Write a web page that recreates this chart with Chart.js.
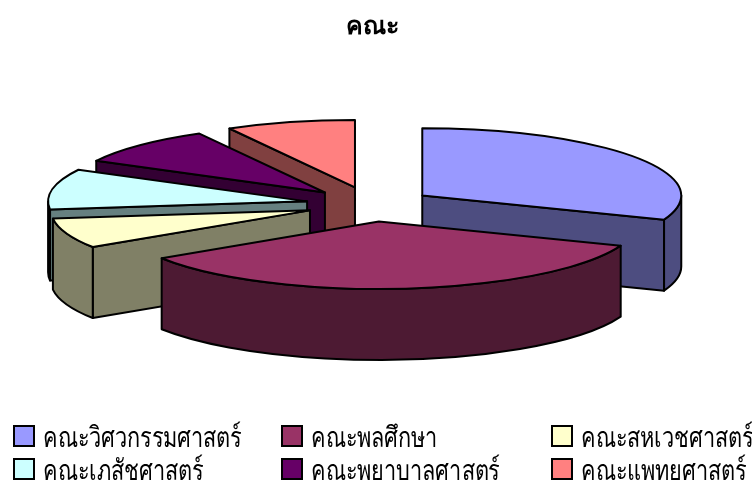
<!DOCTYPE html>
<html lang="th">
<head>
<meta charset="UTF-8">
<title>คณะ</title>
<script src="https://cdn.jsdelivr.net/npm/chart.js"></script>
<style>
    html, body { margin: 0; padding: 0; background: #fff; }
    #wrap { position: relative; width: 752px; height: 482px; overflow: hidden; }
    #legend .item { position: absolute; height: 24px; line-height: 24px; font-family: 'Liberation Serif', serif; font-size: 25px; color: #000; white-space: nowrap; }
    #legend .box { position: absolute; left: 0; top: 1px; width: 18px; height: 18px; border: 2px solid #000; }
    #legend .txt { position: absolute; left: 30px; top: 2px; transform: scale(0.87, 1.15); transform-origin: left center; }
</style>
</head>
<body>
<div id="wrap">
    <canvas id="myChart" width="752" height="482"></canvas>
    <div id="legend"></div>
</div>
<script>
    const categories = ['คณะวิศวกรรมศาสตร์', 'คณะพลศึกษา', 'คณะสหเวชศาสตร์', 'คณะเภสัชศาสตร์', 'คณะพยาบาลศาสตร์', 'คณะแพทยศาสตร์'];
    const values = [111, 126, 26, 35, 33, 29];
    const topColors = ['#9999ff', '#993366', '#ffffcc', '#ccffff', '#660066', '#ff8080'];
    const wallColors = ['#4d4d80', '#4d1a33', '#808066', '#668080', '#330033', '#804040'];
    const explode = [61, 66, 66, 66, 66, 68];

    const legendX = [13, 281, 551];
    const legendY = [424, 457];

    // squashes the pie into an ellipse and adds the side walls, back slices first
    const pie3d = {
        id: 'pie3d',
        beforeDatasetsDraw(chart, args, opts) {
            const ctx = chart.ctx;
            const arcs = chart.getDatasetMeta(0).data;
            const k = opts.tilt;
            const order = arcs.map((a, i) => i).sort((p, q) =>
                Math.sin((arcs[p].startAngle + arcs[p].endAngle) / 2) - Math.sin((arcs[q].startAngle + arcs[q].endAngle) / 2));

            order.forEach(i => {
                const arc = arcs[i];
                const s = arc.startAngle, e = arc.endAngle, r = arc.outerRadius;
                const mid = (s + e) / 2;
                const ax = arc.x + Math.cos(mid) * explode[i];
                const ay = opts.cy + Math.sin(mid) * explode[i] * k;
                const px = a => ax + Math.cos(a) * r;
                const py = a => ay + Math.sin(a) * r * k;

                ctx.save();
                ctx.lineWidth = 2;
                ctx.lineJoin = 'round';
                ctx.strokeStyle = '#000';
                ctx.fillStyle = wallColors[i];

                const cut = a => {
                    ctx.beginPath();
                    ctx.moveTo(ax, ay);
                    ctx.lineTo(px(a), py(a));
                    ctx.lineTo(px(a), py(a) + opts.depth);
                    ctx.lineTo(ax, ay + opts.depth);
                    ctx.closePath();
                    ctx.fill();
                    ctx.stroke();
                };
                if (Math.cos(s) < 0) cut(s);
                if (Math.cos(e) > 0) cut(e);

                const a1 = Math.max(s, 0), a2 = Math.min(e, Math.PI);
                if (a2 > a1) {
                    ctx.beginPath();
                    ctx.ellipse(ax, ay, r, r * k, 0, a1, a2);
                    ctx.ellipse(ax, ay + opts.depth, r, r * k, 0, a2, a1, true);
                    ctx.closePath();
                    ctx.fill();
                    ctx.stroke();
                }

                // top face is the library's own arc element
                ctx.save();
                ctx.translate(ax, ay);
                ctx.scale(1, k);
                ctx.translate(-arc.x, -arc.y);
                arc.draw(ctx);
                ctx.restore();

                ctx.beginPath();
                ctx.moveTo(ax, ay);
                ctx.ellipse(ax, ay, r, r * k, 0, s, e);
                ctx.closePath();
                ctx.stroke();
                ctx.restore();
            });
            return false;
        }
    };

    new Chart(document.getElementById('myChart'), {
        type: 'pie',
        data: {
            labels: categories,
            datasets: [{ data: values, backgroundColor: topColors, borderWidth: 0 }]
        },
        options: {
            responsive: false,
            animation: false,
            radius: 259,
            layout: { padding: { right: 8 } },
            plugins: {
                legend: { display: false },
                tooltip: { enabled: false },
                title: {
                    display: true,
                    text: 'คณะ',
                    color: '#000',
                    font: { family: "'Liberation Sans', sans-serif", size: 25, weight: 'bold' },
                    padding: { top: 12, bottom: 10 }
                },
                pie3d: { tilt: 0.26, depth: 71, cy: 204.5 }
            }
        },
        plugins: [pie3d]
    });

    const legend = document.getElementById('legend');
    categories.forEach((name, i) => {
        const item = document.createElement('div');
        item.className = 'item';
        item.style.left = legendX[i % 3] + 'px';
        item.style.top = legendY[Math.floor(i / 3)] + 'px';
        item.innerHTML = '<span class="box" style="background:' + topColors[i] + '"></span><span class="txt">' + name + '</span>';
        legend.appendChild(item);
    });
</script>
</body>
</html>
